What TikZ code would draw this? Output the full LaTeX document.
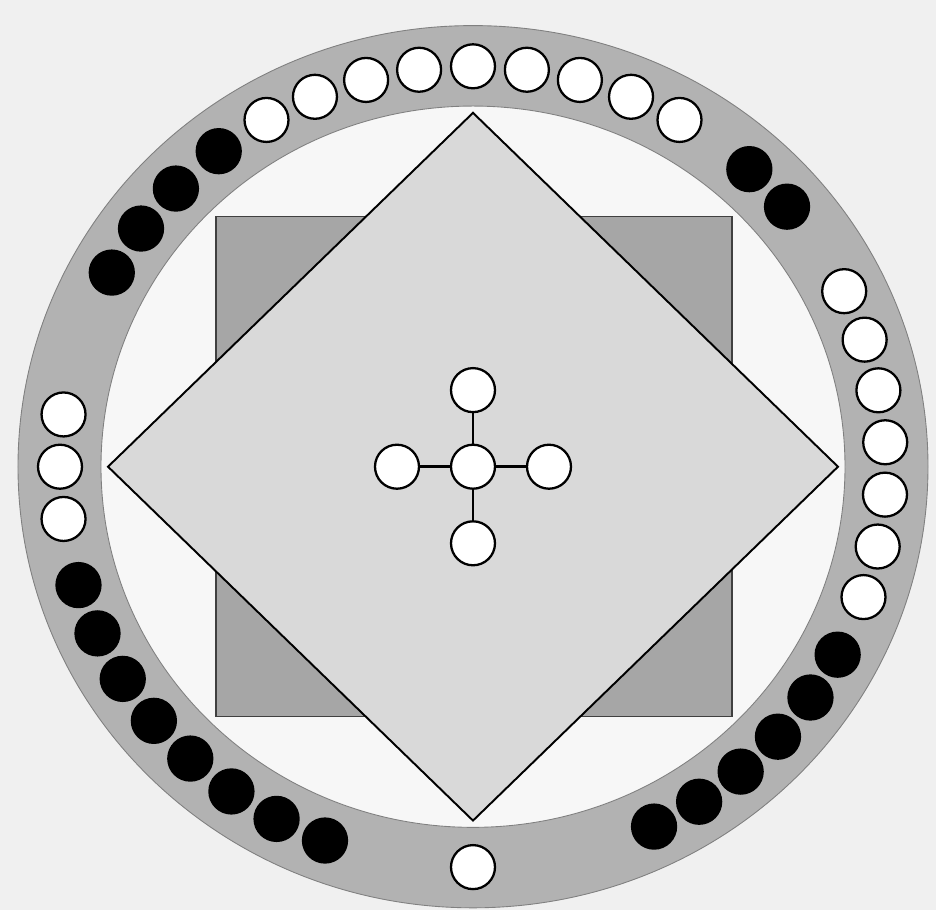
\documentclass[tikz,border=0pt]{standalone}
\usetikzlibrary{calc}
\definecolor{PaperClr}{rgb}{0.94,0.94,0.94}
\definecolor{InnerClr}{rgb}{0.97,0.97,0.97}
\definecolor{RingClr}{rgb}{0.70,0.70,0.70}
\definecolor{SquareClr}{rgb}{0.65,0.65,0.65}
\definecolor{DiamondClr}{rgb}{0.85,0.85,0.85}

\tikzset{
  whitedot/.style={circle,draw=black,line width=1.3pt,fill=white,
    minimum size=0.88cm,inner sep=0pt},
  blackdot/.style={whitedot,fill=black},
}

\begin{document}
\begin{tikzpicture}[x=0.02cm,y=0.0194cm]
\useasboundingbox[fill=PaperClr] (-473,-457.7) rectangle (463,481.4);

\coordinate (O) at (0,0);

% ring
\fill[RingClr] (O) circle (455);
\fill[InnerClr] (O) circle (372);
\draw[line width=0.5pt,black!50] (O) circle (455) (O) circle (372);

% square and diamond
\coordinate (A) at (-257,-258);
\coordinate (C) at (259,258);
\coordinate (N) at (0,365);
\coordinate (E) at (365,0);
\coordinate (S) at (0,-365);
\coordinate (W) at (-365,0);
\filldraw[fill=SquareClr,draw=black!75,line width=0.6pt] (A) rectangle (C);
\filldraw[fill=DiamondClr,draw=black,line width=1.1pt] (N) -- (E) -- (S) -- (W) -- cycle;

% dots on the ring
\foreach \a [count=\i] in {60,67.5,...,120}
  \node[whitedot] (top\i) at (\a:413) {};
\foreach \a [count=\i] in {40.5,48}
  \node[blackdot] (ur\i) at (\a:413) {};
\foreach \a [count=\i] in {26,18.5,11,3.5,-4,-11.5,-19}
  \node[whitedot] (rt\i) at (\a:413) {};
\foreach \a [count=\i] in {-28,-35.2,-42.4,-49.6,-56.8,-64}
  \node[blackdot] (lr\i) at (\a:413) {};
\node[whitedot] (bot1) at (-90:413) {};
\foreach \a [count=\i] in {197.2,204.6,212,219.4,226.8,234.2,241.6,249}
  \node[blackdot] (ll\i) at (\a:413) {};
\foreach \a [count=\i] in {172.5,180,187.5}
  \node[whitedot] (lt\i) at (\a:413) {};
\foreach \a [count=\i] in {128,136,143.5,151}
  \node[blackdot] (ul\i) at (\a:413) {};

% centre cross
\node[whitedot] (c0) at (O) {};
\node[whitedot] (cN) at (0,79) {};
\node[whitedot] (cE) at (76,0) {};
\node[whitedot] (cS) at (0,-79) {};
\node[whitedot] (cW) at (-76,0) {};
\draw[line width=1.7pt] (c0) -- (cN) (c0) -- (cE) (c0) -- (cS) (c0) -- (cW);

\end{tikzpicture}
\end{document}
